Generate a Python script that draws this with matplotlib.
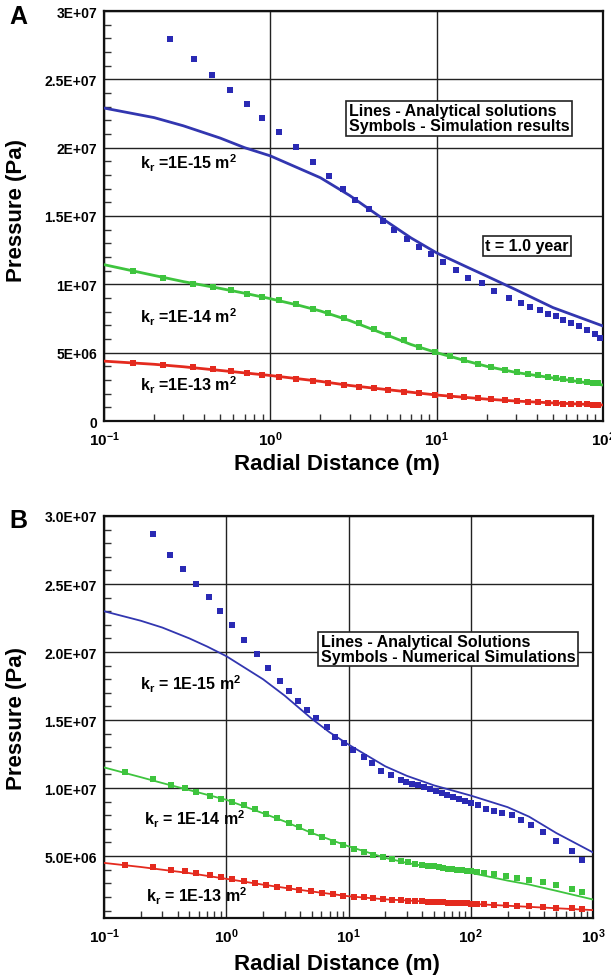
import numpy as np
import matplotlib
matplotlib.use("Agg")
import matplotlib.pyplot as plt
from matplotlib.ticker import FixedLocator, NullFormatter, LogLocator

plt.rcParams['font.family'] = ['Liberation Sans', 'DejaVu Sans']
plt.rcParams['mathtext.fontset'] = 'custom'
plt.rcParams['mathtext.rm'] = 'Liberation Sans:bold'
plt.rcParams['mathtext.it'] = 'Liberation Sans:bold'
plt.rcParams['mathtext.bf'] = 'Liberation Sans:bold'

# ---------------- Panel A data (t = 1.0 year), pressures in MPa*10 (x1e6 Pa) ----------------
a_blue_line_x = [0.1, 0.2, 0.3, 0.5, 0.7, 1.0, 2.0, 3.0, 4.5, 5.0, 7.0, 10, 15, 20, 30, 50, 100]
a_blue_line_y = [22.9, 22.2, 21.6, 20.7, 20.0, 19.4, 17.8, 16.5, 15.0, 14.6, 13.4, 12.3, 11.3, 10.6,
                 9.6, 8.3, 6.95]
a_blue_sym_x = [0.248, 0.348, 0.449, 0.571, 0.72, 0.893, 1.12, 1.43, 1.80, 2.25, 2.74, 3.25, 3.92,
                4.73, 5.56, 6.64, 7.88, 9.27, 10.9, 13.1, 15.4, 18.7, 22.2, 27.2, 32.0, 36.6, 41.8,
                46.6, 51.9, 57.8, 64.3, 71.6, 79.8, 88.9, 96.4]
a_blue_sym_y = [27.93, 26.46, 25.32, 24.24, 23.17, 22.17, 21.12, 20.05, 18.98, 17.95, 17.0, 16.17, 15.49,
                14.67, 14.0, 13.3, 12.7, 12.2, 11.6, 11.07, 10.5, 10.1, 9.54, 9.0, 8.64, 8.35, 8.1,
                7.86, 7.66, 7.42, 7.18, 6.93, 6.69, 6.33, 6.08]

a_green_line_x = [0.1, 0.2, 0.3, 0.5, 0.7, 1.0, 1.5, 2.0, 3.0, 5.0, 7.0, 10, 15, 20, 30, 50, 70, 100]
a_green_line_y = [11.44, 10.65, 10.2, 9.7, 9.35, 8.95, 8.45, 8.05, 7.35, 6.3, 5.6, 5.0, 4.4, 4.0,
                  3.55, 3.15, 2.9, 2.63]
a_sym_x = [0.150, 0.226, 0.343, 0.451, 0.580, 0.728, 0.893, 1.12, 1.43, 1.80, 2.23, 2.77, 3.43, 4.18,
           5.13, 6.36, 7.88, 9.79, 12.1, 14.6, 17.7, 21.3, 25.8, 30.3, 35.6, 40.7, 46.6, 51.9, 57.8,
           64.3, 71.6, 79.8, 86.5, 93.8]
a_green_sym_y = [10.95, 10.45, 10.05, 9.82, 9.55, 9.3, 9.1, 8.85, 8.55, 8.22, 7.9, 7.55, 7.15, 6.75,
                 6.3, 5.9, 5.45, 5.08, 4.75, 4.45, 4.2, 3.95, 3.75, 3.58, 3.45, 3.35, 3.25, 3.15, 3.07,
                 3.0, 2.93, 2.86, 2.8, 2.75]

a_red_line_x = [0.1, 0.2, 0.3, 0.5, 1.0, 2.0, 3.0, 5.0, 10, 20, 30, 50, 100]
a_red_line_y = [4.38, 4.15, 3.97, 3.7, 3.33, 2.9, 2.6, 2.3, 1.9, 1.6, 1.46, 1.32, 1.17]
a_red_sym_y = [4.25, 4.12, 3.95, 3.8, 3.68, 3.52, 3.4, 3.25, 3.1, 2.95, 2.8, 2.65, 2.52, 2.4,
               2.28, 2.15, 2.03, 1.92, 1.83, 1.75, 1.67, 1.6, 1.53, 1.47, 1.42, 1.38, 1.34, 1.31, 1.28,
               1.26, 1.23, 1.21, 1.2, 1.18]

# ---------------- Panel B data ----------------
b_blue_line_x = [0.1, 0.2, 0.3, 0.5, 0.7, 1.0, 2.0, 3.0, 5.0, 7.0, 10, 20, 30, 50, 100, 200, 300,
                 500, 1000]
b_blue_line_y = [23.0, 22.3, 21.8, 21.0, 20.4, 19.7, 18.0, 16.8, 15.1, 14.1, 13.2, 11.6, 10.9, 10.2,
                 9.45, 8.6, 7.9, 6.7, 5.27]
b_blue_sym_x = [0.250, 0.348, 0.443, 0.568, 0.724, 0.889, 1.12, 1.41, 1.77, 2.21, 2.73, 3.26, 3.88,
                4.60, 5.44, 6.64, 7.80, 9.23, 10.9, 13.3, 15.7, 18.5, 22.2, 26.7, 29.8, 33.3, 37.2,
                41.5, 46.3, 51.7, 57.7, 64.4, 71.9, 80.2, 89.5, 100, 114, 134, 155, 180, 216, 259,
                312, 388, 502, 673, 809]
b_blue_sym_y = [28.68, 27.16, 26.11, 25.01, 24.01, 23.0, 21.96, 20.88, 19.83, 18.80, 17.90, 17.14, 16.41,
                15.72, 15.13, 14.52, 13.74, 13.30, 12.81, 12.32, 11.83, 11.22, 10.93, 10.61, 10.44,
                10.32, 10.20, 10.07, 9.95, 9.80, 9.66, 9.51, 9.34, 9.19, 9.05, 8.90, 8.73, 8.48, 8.34,
                8.17, 8.0, 7.63, 7.31, 6.77, 6.09, 5.35, 4.74]

b_green_line_x = [0.1, 0.2, 0.3, 0.5, 1.0, 2.0, 3.0, 5.0, 10, 20, 30, 50, 100, 200, 300, 500, 1000]
b_green_line_y = [11.52, 10.8, 10.37, 9.85, 9.14, 8.15, 7.55, 6.7, 5.72, 4.87, 4.5, 4.15, 3.77,
                  3.2, 2.91, 2.45, 1.81]
b_sym_x = [0.149, 0.254, 0.353, 0.456, 0.568, 0.735, 0.902, 1.12, 1.39, 1.71, 2.13, 2.61, 3.23, 3.97,
           4.95, 6.07, 7.40, 9.02, 11.1, 13.3, 16.0, 19.2, 22.7, 26.7, 30.9, 35.3, 40.0, 44.6, 49.8,
           54.8, 59.8, 65.3, 70.8, 77.4, 84.5, 93.0, 101, 112, 129, 155, 193, 241, 301, 388, 502,
           673, 809]
b_green_sym_y = [11.2, 10.65, 10.25, 9.98, 9.72, 9.42, 9.22, 8.98, 8.72, 8.45, 8.12, 7.8, 7.45, 7.12,
                 6.75, 6.4, 6.05, 5.78, 5.52, 5.3, 5.1, 4.92, 4.78, 4.64, 4.53, 4.45, 4.37, 4.3, 4.24,
                 4.18, 4.13, 4.08, 4.04, 4.0, 3.96, 3.92, 3.88, 3.83, 3.77, 3.68, 3.55, 3.42, 3.27,
                 3.08, 2.87, 2.6, 2.38]

b_red_line_x = [0.1, 0.2, 0.3, 0.5, 1.0, 2.0, 3.0, 5.0, 10, 20, 30, 50, 100, 300, 1000]
b_red_line_y = [4.5, 4.2, 4.0, 3.75, 3.33, 2.9, 2.67, 2.4, 2.05, 1.82, 1.74, 1.63, 1.49, 1.27, 1.03]
b_red_sym_y = [4.38, 4.18, 4.0, 3.87, 3.75, 3.6, 3.44, 3.3, 3.15, 3.0, 2.88, 2.75, 2.62, 2.5,
               2.4, 2.3, 2.2, 2.1, 2.02, 1.96, 1.9, 1.85, 1.8, 1.77, 1.73, 1.7, 1.67, 1.65, 1.63,
               1.61, 1.6, 1.58, 1.57, 1.55, 1.54, 1.52, 1.5, 1.48, 1.46, 1.43, 1.39, 1.35, 1.3,
               1.25, 1.2, 1.15, 1.12]

a_yticks = [0, 5e6, 1e7, 1.5e7, 2e7, 2.5e7, 3e7]
a_ylabels = ['0', '5E+06', '1E+07', '1.5E+07', '2E+07', '2.5E+07', '3E+07']
b_yticks = [5e6, 1e7, 1.5e7, 2e7, 2.5e7, 3e7]
b_ylabels = ['5.0E+06', '1.0E+07', '1.5E+07', '2.0E+07', '2.5E+07', '3.0E+07']

BLUE = '#3236b0'
BLUE_S = '#2a2ab4'
GREEN = '#3ec43e'
RED = '#e42a1e'

def M(v):
    return np.array(v) * 1e6

def style_axes(ax, xmax, ymin, yticks, ylabels):
    ax.set_xscale('log')
    ax.set_xlim(0.1, xmax)
    ax.set_ylim(ymin, 3e7)
    decades = [10.0 ** k for k in range(-1, int(np.log10(xmax)) + 1)]
    ax.set_xticks(decades)
    ax.set_xticklabels([r'$10^{%d}$' % int(np.log10(d)) for d in decades])
    ax.xaxis.set_minor_locator(LogLocator(base=10, subs=np.arange(2, 10)))
    ax.xaxis.set_minor_formatter(NullFormatter())
    ax.set_yticks(yticks)
    ax.set_yticklabels(ylabels)
    ax.yaxis.set_minor_locator(FixedLocator(np.arange(0, 3.01e7, 1e6)))
    ax.tick_params(which='major', length=0, labelsize=10, pad=5)
    ax.tick_params(axis='x', which='major', pad=6, labelsize=11)
    ax.tick_params(which='minor', direction='in', length=5, width=1, color='#333333')
    for lab in ax.get_yticklabels():
        lab.set_fontweight('bold')
    ax.grid(True, which='major', color='#222222', lw=1.0)
    for s in ax.spines.values():
        s.set_linewidth(1.6)
        s.set_color('#111111')

fig = plt.figure(figsize=(6.11, 9.78), dpi=100)
W, H = 611.0, 978.0

# ---------- Panel A ----------
axA = fig.add_axes([104 / W, 1 - 422 / H, 499 / W, 410 / H])
axA.plot(a_blue_line_x, M(a_blue_line_y), color=BLUE, lw=2.0, zorder=3)
axA.plot(a_green_line_x, M(a_green_line_y), color=GREEN, lw=2.0, zorder=3)
axA.plot(a_red_line_x, M(a_red_line_y), color=RED, lw=2.0, zorder=3)
axA.plot(a_blue_sym_x, M(a_blue_sym_y), 's', color=BLUE_S, ms=4.3, mew=0, zorder=4)
axA.plot(a_sym_x, M(a_green_sym_y), 's', color=GREEN, ms=4.0, mew=0, zorder=4)
axA.plot(a_sym_x, M(a_red_sym_y), 's', color=RED, ms=4.0, mew=0, zorder=4)
style_axes(axA, 100, 0, a_yticks, a_ylabels)

box = dict(boxstyle='square,pad=0.15', facecolor='white', edgecolor='#222222', lw=1.2)
axA.text(0.49, 0.738, 'Lines - Analytical solutions\nSymbols - Simulation results',
         transform=axA.transAxes, fontsize=11.5, fontweight='bold', va='center', ha='left',
         linespacing=1.0, bbox=box, zorder=6)
axA.text(0.847, 0.427, 't = 1.0 year', transform=axA.transAxes, fontsize=11.5,
         fontweight='bold', va='center', ha='center', bbox=box, zorder=6)
kr_fs = 11.5
axA.text(0.072, 0.63, r'$\mathregular{k_r}$ =1E-15 m$^\mathregular{2}$', transform=axA.transAxes,
         fontsize=kr_fs, fontweight='bold', va='center', zorder=6)
axA.text(0.072, 0.255, r'$\mathregular{k_r}$ =1E-14 m$^\mathregular{2}$', transform=axA.transAxes,
         fontsize=kr_fs, fontweight='bold', va='center', zorder=6)
axA.text(0.072, 0.09, r'$\mathregular{k_r}$ =1E-13 m$^\mathregular{2}$', transform=axA.transAxes,
         fontsize=kr_fs, fontweight='bold', va='center', zorder=6)

# ---------- Panel B ----------
axB = fig.add_axes([104 / W, 1 - 919 / H, 489 / W, 402 / H])
axB.plot(b_blue_line_x, M(b_blue_line_y), color=BLUE, lw=1.3, zorder=3)
axB.plot(b_green_line_x, M(b_green_line_y), color=GREEN, lw=1.3, zorder=3)
axB.plot(b_red_line_x, M(b_red_line_y), color=RED, lw=1.3, zorder=3)
axB.plot(b_blue_sym_x, M(b_blue_sym_y), 's', color=BLUE_S, ms=3.8, mew=0, zorder=4)
axB.plot(b_sym_x, M(b_green_sym_y), 's', color=GREEN, ms=3.8, mew=0, zorder=4)
axB.plot(b_sym_x, M(b_red_sym_y), 's', color=RED, ms=3.8, mew=0, zorder=4)
style_axes(axB, 1000, 4.5e5, b_yticks, b_ylabels)

axB.text(0.443, 0.669, 'Lines - Analytical Solutions\nSymbols - Numerical Simulations',
         transform=axB.transAxes, fontsize=11.5, fontweight='bold', va='center', ha='left',
         linespacing=1.0, bbox=box, zorder=6)
axB.text(0.073, 0.584, r'$\mathregular{k_r}$ = 1E-15 m$^\mathregular{2}$', transform=axB.transAxes,
         fontsize=kr_fs, fontweight='bold', va='center', zorder=6)
axB.text(0.081, 0.249, r'$\mathregular{k_r}$ = 1E-14 m$^\mathregular{2}$', transform=axB.transAxes,
         fontsize=kr_fs, fontweight='bold', va='center', zorder=6)
axB.text(0.085, 0.056, r'$\mathregular{k_r}$ = 1E-13 m$^\mathregular{2}$', transform=axB.transAxes,
         fontsize=kr_fs, fontweight='bold', va='center', zorder=6)

# ---------- labels ----------
for yc, xl_y, letter_y, letter in [(210, 465, 17, 'A'), (718, 965, 521, 'B')]:
    fig.text(17 / W, 1 - yc / H, 'Pressure (Pa)', rotation=90, fontsize=16,
             fontweight='bold', ha='center', va='center')
    fig.text(337 / W, 1 - xl_y / H, 'Radial Distance (m)', fontsize=16,
             fontweight='bold', ha='center', va='center')
    fig.text(18 / W, 1 - letter_y / H, letter, fontsize=18, fontweight='bold',
             ha='center', va='center')

fig.savefig('out.png', dpi=100)
